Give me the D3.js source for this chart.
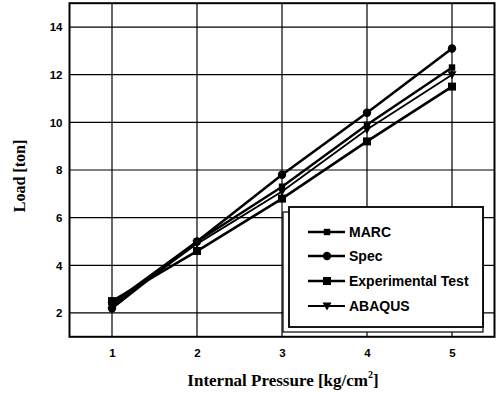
<!DOCTYPE html>
<html><head><meta charset="utf-8">
<script src="https://cdn.jsdelivr.net/npm/d3@7"></script>
<style>body{margin:0;background:#fff}</style>
</head><body>
<svg id="c" width="498" height="405"></svg>
<script>
const pressures = [1, 2, 3, 4, 5];
const marc = [2.4, 5.0, 7.3, 9.9, 12.3];
const spec = [2.2, 5.0, 7.8, 10.4, 13.1];
const experimental = [2.5, 4.6, 6.8, 9.2, 11.5];
const abaqus = [2.3, 4.9, 7.1, 9.7, 12.0];
const seriesNames = ["MARC", "Spec", "Experimental Test", "ABAQUS"];
const xTicks = [1, 2, 3, 4, 5];
const yTicks = [2, 4, 6, 8, 10, 12, 14];

const series = [
  {name: seriesNames[0], vals: marc, sym: "smallsquare", w: 2.4},
  {name: seriesNames[1], vals: spec, sym: "circle", w: 2.6},
  {name: seriesNames[2], vals: experimental, sym: "square", w: 2.6},
  {name: seriesNames[3], vals: abaqus, sym: "triangle", w: 1.8}
];

const svg = d3.select("#c");
const L = 69.5, R = 494.5, T = 3.2, B = 336.8;
const x = d3.scaleLinear().domain([0.5, 5.5]).range([L, R]);
const y = d3.scaleLinear().domain([1, 15]).range([B, T]);

// grid
const g = svg.append("g");
g.selectAll("line.vx").data(xTicks).join("line")
  .attr("x1", d => x(d)).attr("x2", d => x(d)).attr("y1", T).attr("y2", B)
  .attr("stroke", "#000").attr("stroke-width", 1.2);
g.selectAll("line.hy").data(yTicks).join("line")
  .attr("y1", d => y(d)).attr("y2", d => y(d)).attr("x1", L).attr("x2", R)
  .attr("stroke", "#000").attr("stroke-width", 1.2);

// axes (labels only)
const tickFont = "'Liberation Sans Narrow','Arial Narrow','Liberation Sans',sans-serif";
const xa = svg.append("g").attr("transform", `translate(0,${B})`)
  .call(d3.axisBottom(x).tickValues(xTicks).tickSize(0).tickPadding(12).tickFormat(d3.format("d")));
const ya = svg.append("g").attr("transform", `translate(${L},0)`)
  .call(d3.axisLeft(y).tickValues(yTicks).tickSize(0).tickPadding(7).tickFormat(d3.format("d")));
[xa, ya].forEach(a => {
  a.select(".domain").remove();
  a.selectAll("text").attr("font-family", tickFont).attr("font-weight", "bold")
    .attr("font-size", 11.5).attr("fill", "#000");
});

// frame
svg.append("rect").attr("x", L).attr("y", T).attr("width", R - L).attr("height", B - T)
  .attr("fill", "none").attr("stroke", "#000").attr("stroke-width", 2);

function symbol(sel, sym, cx, cy) {
  if (sym === "circle") sel.append("circle").attr("cx", cx).attr("cy", cy).attr("r", 4.2).attr("fill", "#000");
  else if (sym === "square") sel.append("rect").attr("x", cx - 4).attr("y", cy - 4).attr("width", 8).attr("height", 8).attr("fill", "#000");
  else if (sym === "smallsquare") sel.append("rect").attr("x", cx - 3.2).attr("y", cy - 3.2).attr("width", 6.4).attr("height", 6.4).attr("fill", "#000");
  else if (sym === "triangle") sel.append("path").attr("d", `M${cx - 4.5},${cy - 3.5}L${cx + 4.5},${cy - 3.5}L${cx},${cy + 4.5}Z`).attr("fill", "#000");
}

const line = d3.line().x((d, i) => x(pressures[i])).y(d => y(d));
series.forEach(s => {
  svg.append("path").attr("d", line(s.vals)).attr("fill", "none")
    .attr("stroke", "#000").attr("stroke-width", s.w);
  const gs = svg.append("g");
  s.vals.forEach((v, i) => symbol(gs, s.sym, x(pressures[i]), y(v)));
});

// legend
const lg = svg.append("g");
lg.append("rect").attr("x", 283).attr("y", 212).attr("width", 200).attr("height", 120)
  .attr("fill", "#fff").attr("stroke", "#000").attr("stroke-width", 1.2);
lg.append("rect").attr("x", 289).attr("y", 207).attr("width", 194).attr("height", 120)
  .attr("fill", "#fff").attr("stroke", "#000").attr("stroke-width", 1.8);
const legY = [232, 256, 281, 306];
series.forEach((s, i) => {
  const yy = legY[i];
  lg.append("line").attr("x1", 308).attr("x2", 345).attr("y1", yy).attr("y2", yy)
    .attr("stroke", "#000").attr("stroke-width", s.w);
  symbol(lg, s.sym, 327, yy);
  lg.append("text").attr("x", 349).attr("y", yy + 5).text(s.name)
    .attr("font-family", tickFont).attr("font-weight", "bold").attr("font-size", 14).attr("fill", "#000");
});

// titles
const serif = "'Liberation Serif','Times New Roman',serif";
const xt = svg.append("text").attr("x", 283).attr("y", 386).attr("text-anchor", "middle")
  .attr("font-family", serif).attr("font-weight", "bold").attr("font-size", 17).attr("fill", "#000");
xt.append("tspan").text("Internal Pressure [kg/cm");
xt.append("tspan").text("2").attr("font-size", 10).attr("dy", -8);
xt.append("tspan").text("]").attr("dy", 8);
svg.append("text").attr("transform", "translate(25,176) rotate(-90)").attr("text-anchor", "middle")
  .attr("font-family", serif).attr("font-weight", "bold").attr("font-size", 16).attr("fill", "#000")
  .text("Load [ton]");
</script>
</body></html>
